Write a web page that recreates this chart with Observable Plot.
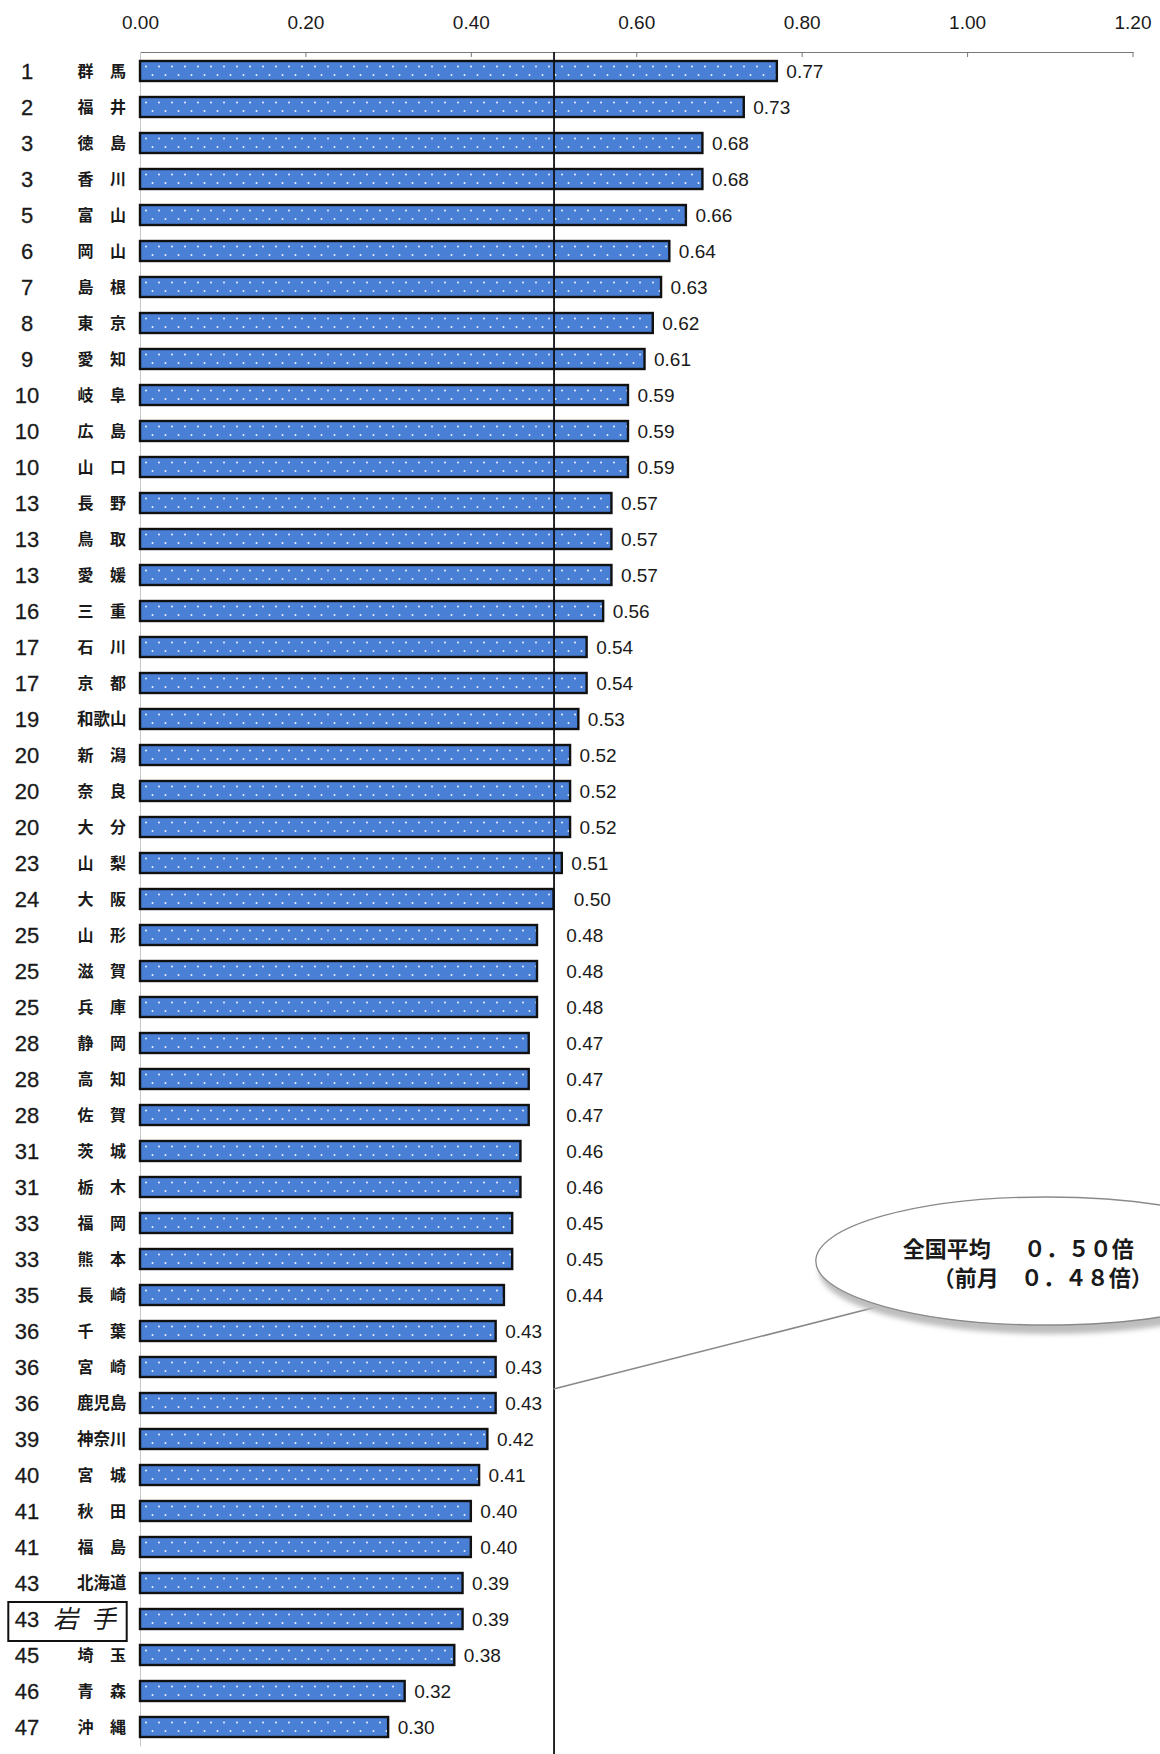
<!DOCTYPE html>
<html><head><meta charset="utf-8">
<script src="https://cdn.jsdelivr.net/npm/d3@7"></script>
<script src="https://cdn.jsdelivr.net/npm/@observablehq/plot@0.6"></script>
<style>
body{margin:0;background:#fff;}
#chart svg{display:block;}
</style></head><body><div id="chart"></div>
<script>
const ranks = [1,2,3,3,5,6,7,8,9,10,10,10,13,13,13,16,17,17,19,20,20,20,23,24,25,25,25,28,28,28,31,31,33,33,35,36,36,36,39,40,41,41,43,43,45,46,47];
const prefectures = ["群馬","福井","徳島","香川","富山","岡山","島根","東京","愛知","岐阜","広島","山口","長野","鳥取","愛媛","三重","石川","京都","和歌山","新潟","奈良","大分","山梨","大阪","山形","滋賀","兵庫","静岡","高知","佐賀","茨城","栃木","福岡","熊本","長崎","千葉","宮崎","鹿児島","神奈川","宮城","秋田","福島","北海道","岩手","埼玉","青森","沖縄"];
const ratios = [0.77,0.73,0.68,0.68,0.66,0.64,0.63,0.62,0.61,0.59,0.59,0.59,0.57,0.57,0.57,0.56,0.54,0.54,0.53,0.52,0.52,0.52,0.51,0.50,0.48,0.48,0.48,0.47,0.47,0.47,0.46,0.46,0.45,0.45,0.44,0.43,0.43,0.43,0.42,0.41,0.40,0.40,0.39,0.39,0.38,0.32,0.30];
const xTicks = [0, 0.2, 0.4, 0.6, 0.8, 1.0, 1.2];
const nationalAverage = 0.50;
const highlight = "岩手";
const calloutLines = ["全国平均\u3000\u2002０．５０倍", "（前月\u3000０．４８倍）"];

const rows = prefectures.map((name, i) => ({rank: ranks[i], name, value: ratios[i]}));
const normal = rows.filter(d => d.name !== highlight);
const two = normal.filter(d => d.name.length === 2);
const three = normal.filter(d => d.name.length !== 2);
const hl = rows.filter(d => d.name === highlight);

const W = 1160, H = 1754, MT = 52, MB = 7.5;
const LATIN = "'Liberation Sans', Arial, sans-serif";
const CJK = "'Noto Sans CJK JP', sans-serif";
// labels of bars ending just left of the average line are pushed right of it
const labelX = v => (v >= 0.44 && v < nationalAverage) ? nationalAverage + 0.004 : (v === nationalAverage ? nationalAverage + 0.013 : v);

const plot = Plot.plot({
  width: W, height: H,
  marginLeft: 140, marginRight: 27.5, marginTop: MT, marginBottom: MB,
  style: {fontFamily: LATIN, background: "#fff", color: "#1a1a1a", overflow: "visible"},
  x: {domain: [0, 1.2], axis: null},
  y: {domain: prefectures, paddingInner: 0.445, paddingOuter: 0.2225, axis: null},
  marks: [
    Plot.frame({anchor: "top", stroke: "#777"}),
    Plot.ruleX(xTicks, {x: d => d, stroke: "#777", insetBottom: H - MT - MB - 5}),
    Plot.axisX(xTicks, {anchor: "top", label: null, tickSize: 0, tickPadding: 24, tickFormat: d3.format(".2f"), fontSize: 19, fill: "#1a1a1a"}),
    Plot.ruleX([0], {stroke: "#c8c8c8"}),
    Plot.barX(rows, {x: "value", y: "name", fill: "url(#dots)", stroke: "#111", strokeWidth: 2.4}),
    Plot.ruleX([nationalAverage], {stroke: "#111", strokeWidth: 1.8, insetBottom: -8}),
    Plot.text(rows, {x: d => labelX(d.value), y: "name", text: d => d.value.toFixed(2), textAnchor: "start", dx: 9, fontSize: 19, fill: "#1a1a1a"}),
    Plot.text(rows, {y: "name", frameAnchor: "left", text: d => String(d.rank), textAnchor: "middle", dx: -113.5, fontSize: 22, fill: "#1a1a1a", stroke: "#1a1a1a", strokeWidth: 0.3}),
    Plot.text(two, {y: "name", frameAnchor: "left", text: d => d.name[0], textAnchor: "middle", dx: -55, fontSize: 16, fontFamily: CJK, fontWeight: 700, fill: "#1a1a1a"}),
    Plot.text(two, {y: "name", frameAnchor: "left", text: d => d.name[1], textAnchor: "middle", dx: -22.5, fontSize: 16, fontFamily: CJK, fontWeight: 700, fill: "#1a1a1a"}),
    Plot.text(three, {y: "name", frameAnchor: "left", text: "name", textAnchor: "end", dx: -14, fontSize: 16.5, fontFamily: CJK, fontWeight: 700, fill: "#1a1a1a"}),
    Plot.text(hl, {y: "name", frameAnchor: "left", text: d => d.name[0], textAnchor: "middle", dx: -75, fontSize: 25, fontFamily: CJK, fontStyle: "italic", fill: "#1a1a1a"}),
    Plot.text(hl, {y: "name", frameAnchor: "left", text: d => d.name[1], textAnchor: "middle", dx: -37, fontSize: 25, fontFamily: CJK, fontStyle: "italic", fill: "#1a1a1a"})
  ]
});

const svg = d3.select(plot);
const xs = plot.scale("x"), ys = plot.scale("y");
const bw = ys.bandwidth, step = ys.step || (bw / (1 - 0.445));
const rowC = name => ys.apply(name) + bw / 2;

// dotted bar fill
const defs = svg.insert("defs", ":first-child");
const firstTop = ys.apply(prefectures[0]);
const pat = defs.append("pattern").attr("id", "dots").attr("patternUnits", "userSpaceOnUse")
  .attr("x", 0).attr("y", firstTop).attr("width", 13).attr("height", step / 2);
pat.append("rect").attr("width", 13).attr("height", step / 2).attr("fill", "#4a7fd6");
pat.append("circle").attr("cx", 3).attr("cy", 5.5).attr("r", 1).attr("fill", "#eef3ff");
pat.append("circle").attr("cx", 9.5).attr("cy", 14).attr("r", 1).attr("fill", "#eef3ff");
defs.append("filter").attr("id", "blur").attr("x", "-10%").attr("y", "-20%").attr("width", "120%").attr("height", "140%")
  .append("feGaussianBlur").attr("stdDeviation", 2.5);

// highlight box for 岩手
const hy = rowC(highlight);
svg.append("rect").attr("x", 8.3).attr("y", hy - 17).attr("width", 118.4).attr("height", 39)
  .attr("fill", "none").attr("stroke", "#111").attr("stroke-width", 2);

// callout
const ann = svg.append("g");
const x0 = xs.apply(nationalAverage), y0 = rowC("鹿児島") - 14;
const cx = xs.apply(1.1) - 3, cy = rowC("熊本") + 2;
ann.append("line").attr("x1", x0).attr("y1", y0).attr("x2", 900).attr("y2", y0 - (900 - x0) * 0.254)
  .attr("stroke", "#888").attr("stroke-width", 1.6);
ann.append("ellipse").attr("cx", cx + 3).attr("cy", cy + 9).attr("rx", 231).attr("ry", 64)
  .attr("fill", "#bdbdbd").attr("filter", "url(#blur)");
ann.append("ellipse").attr("cx", cx).attr("cy", cy).attr("rx", 231).attr("ry", 64)
  .attr("fill", "#fff").attr("stroke", "#8a8a8a").attr("stroke-width", 1.3);
ann.append("text").attr("x", cx + 87).attr("y", cy - 4).attr("text-anchor", "end")
  .attr("font-family", CJK).attr("font-weight", 700).attr("font-size", 22).attr("fill", "#1a1a1a").text(calloutLines[0]);
ann.append("text").attr("x", cx + 106).attr("y", cy + 25).attr("text-anchor", "end")
  .attr("font-family", CJK).attr("font-weight", 700).attr("font-size", 22).attr("fill", "#1a1a1a").text(calloutLines[1]);

document.getElementById("chart").appendChild(plot);
</script></body></html>
